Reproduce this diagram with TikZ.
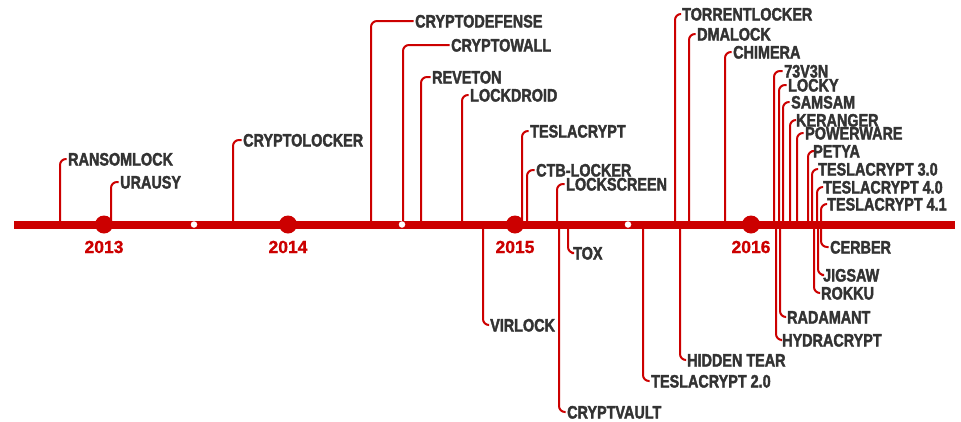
\documentclass[tikz,border=0pt]{standalone}
\usepackage{fontspec}
\newfontfamily\lblfont[FakeStretch=0.8,FakeBold=2]{Liberation Sans Bold}
\newfontfamily\yearfont[FakeBold=1]{Liberation Sans Bold}
\definecolor{tlred}{HTML}{CC0000}
\definecolor{tltext}{HTML}{333333}
\begin{document}
\begin{tikzpicture}[x=1pt,y=-1pt,
  conn/.style={draw=tlred, line width=2pt, rounded corners=6pt},
  lbl/.style={anchor=west, inner sep=0pt, text height=13pt, text depth=0pt,
    font=\lblfont\fontsize{18}{18}\selectfont, text=tltext},
  yearlbl/.style={inner sep=0pt, font=\yearfont\fontsize{17.5}{17.5}\selectfont, text=tlred},
  yeardot/.style={circle, fill=tlred, inner sep=0pt, minimum size=18pt},
  halfdot/.style={circle, fill=white, inner sep=0pt, minimum size=6.5pt}]
\useasboundingbox (0,0) rectangle (961,421);
% main line
\coordinate (L) at (14,224.5);
\coordinate (R) at (955,224.5);
\draw[tlred, line width=8pt] (L) -- (R);
% labels above and below the line
\foreach \n/\lx/\tx/\ty/\t in {
  a1/60/68/159/RANSOMLOCK,
  a2/111/120/182/URAUSY,
  a3/233/243/140/CRYPTOLOCKER,
  a4/371/415/21/CRYPTODEFENSE,
  a5/403/451/45/CRYPTOWALL,
  a6/421/432/77/REVETON,
  a7/462/470/95/LOCKDROID,
  a8/522/530/131/TESLACRYPT,
  a9/527/536/170/CTB-LOCKER,
  a10/557/566/184/LOCKSCREEN,
  a11/675/682/14/TORRENTLOCKER,
  a12/689/697/34/DMALOCK,
  a13/725/733/52/CHIMERA,
  a14/774/784/71/73V3N,
  a15/779/788/85/LOCKY,
  a16/783/791/102/SAMSAM,
  a17/790/796/120/KERANGER,
  a18/797/805/133/POWERWARE,
  a19/808/813/151/PETYA,
  a20/812/818/169/TESLACRYPT 3.0,
  a21/817/823/187/TESLACRYPT 4.0,
  a22/821/827/204/TESLACRYPT 4.1,
  b1/483/490/325/VIRLOCK,
  b2/568/573/253/TOX,
  b3/559/567/412/CRYPTVAULT,
  b4/643/651/381/TESLACRYPT 2.0,
  b5/680/687/360/HIDDEN TEAR,
  b6/776/782/340/HYDRACRYPT,
  b7/780/787/317/RADAMANT,
  b8/814/821/293/ROKKU,
  b9/818/823/275/JIGSAW,
  b10/821/830/247/CERBER}{
  \coordinate (c\n) at (\lx,224.5);
  \node[lbl] (n\n) at (\tx,\ty) {\t};
  \draw[conn] (c\n) |- ([xshift=-1.5pt]n\n.west);
}
% year dots and labels
\foreach \n/\x/\yr in {y1/104/2013, y2/288/2014, y3/515/2015, y4/751/2016}{
  \node[yeardot] (d\n) at (\x,224.5) {};
  \node[yearlbl] (t\n) at (\x,247) {\yr};
}
% half-year dots
\foreach \n/\x in {h1/194, h2/402, h3/628}{
  \node[halfdot] (\n) at (\x,224.5) {};
}
\end{tikzpicture}
\end{document}
